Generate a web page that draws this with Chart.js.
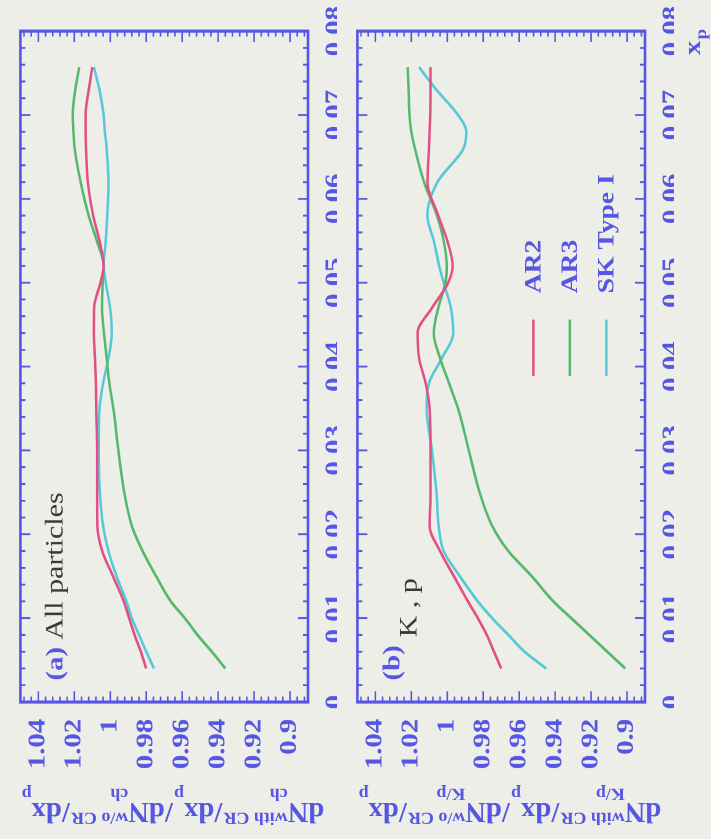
<!DOCTYPE html>
<html>
<head>
<meta charset="utf-8">
<script src="https://cdn.jsdelivr.net/npm/chart.js@4.4.1/dist/chart.umd.min.js"></script>
<style>
  html, body { margin: 0; padding: 0; background: #eeeee8; overflow: hidden; }
  /* the figure is drawn upright, then turned a quarter to the left like the scan */
  #page { position: absolute; left: 0; top: 0; width: 700px; height: 711px;
          transform-origin: 0 0; transform: translateY(839px) rotate(-90deg) scaleX(1.19857); }
  #page canvas { position: absolute; left: 0; }
</style>
</head>
<body>
<div id="page">
  <canvas id="chart_all" width="700" height="337" style="top:0px"></canvas>
  <canvas id="chart_kp" width="700" height="374" style="top:337px"></canvas>
</div>
<script>
// x_p sample points, shared by every curve
var XP = [0.004, 0.006, 0.008, 0.010, 0.012, 0.015, 0.018, 0.021, 0.025, 0.030, 0.035, 0.038,
          0.041, 0.044, 0.047, 0.050, 0.052, 0.055, 0.058, 0.062, 0.066, 0.068, 0.070, 0.073, 0.0757];

// (a) all particles
var AR2_ALL = [0.980, 0.983, 0.9865, 0.9895, 0.9925, 0.9985, 1.0045, 1.0072, 1.0073, 1.0073, 1.0078, 1.008,
               1.0085, 1.0091, 1.009, 1.0055, 1.0037, 1.006, 1.0095, 1.0125, 1.0135, 1.0137, 1.0137, 1.012, 1.010];
var AR3_ALL = [0.936, 0.9435, 0.9515, 0.9585, 0.9663, 0.9745, 0.982, 0.988, 0.9922, 0.9955, 0.9983, 1.0005,
               1.002, 1.0035, 1.0046, 1.0042, 1.0037, 1.0075, 1.012, 1.0165, 1.0198, 1.0205, 1.0209, 1.0195, 1.0173];
var SK_ALL  = [0.9757, 0.980, 0.984, 0.988, 0.991, 0.9965, 1.001, 1.004, 1.0058, 1.0064, 1.006, 1.004,
               1.001, 0.9992, 1.0001, 1.0025, 1.0037, 1.0025, 1.0017, 1.001, 1.002, 1.003, 1.0037, 1.006, 1.0091];

// (b) K, p
var AR2_KP = [0.970, 0.974, 0.978, 0.983, 0.9885, 0.9963, 1.004, 1.0098, 1.0093, 1.0093, 1.0098, 1.012,
              1.0157, 1.0165, 1.0085, 0.9995, 0.997, 1.000, 1.005, 1.011, 1.0102, 1.0098, 1.0095, 1.0093, 1.0093];
var AR3_KP = [0.901, 0.911, 0.921, 0.931, 0.941, 0.953, 0.966, 0.975, 0.982, 0.988, 0.994, 0.999,
              1.004, 1.0075, 1.005, 1.001, 1.0003, 1.002, 1.0057, 1.0129, 1.018, 1.020, 1.021, 1.0215, 1.022];
var SK_KP  = [0.945, 0.957, 0.966, 0.975, 0.983, 0.993, 1.002, 1.0048, 1.006, 1.0085, 1.0115, 1.0102,
              1.003, 0.9967, 0.998, 1.002, 1.0045, 1.0075, 1.0111, 1.0055, 0.991, 0.9894, 0.994, 1.006, 1.0157];

var SERIES_LABELS = ['AR2', 'AR3', 'SK Type I'];
var X_TICKS = [0, 0.01, 0.02, 0.03, 0.04, 0.05, 0.06, 0.07, 0.08];
var Y_TICKS = [0.9, 0.92, 0.94, 0.96, 0.98, 1, 1.02, 1.04];

// y axis titles: main text, or a superscript/subscript pair
var TITLE_ALL = [{t: 'dN'}, {sup: 'with CR', sub: 'ch'}, {t: '/dx'}, {sub: 'p'},
                 {t: '/dN'}, {sup: 'w/o CR', sub: 'ch'}, {t: '/dx'}, {sub: 'p'}];
var TITLE_KP  = [{t: 'dN'}, {sup: 'with CR', sub: 'K/p'}, {t: '/dx'}, {sub: 'p'},
                 {t: '/dN'}, {sup: 'w/o CR', sub: 'K/p'}, {t: '/dx'}, {sub: 'p'}];

var BLUE = '#5656e4';
var COLORS = ['#e24f86', '#55b86c', '#57c8d8'];
var SERIF = "'Liberation Serif', 'DejaVu Serif', serif";
var MAIN_FONT = 'bold 24px ' + SERIF;
var SMALL_FONT = 'bold 15px ' + SERIF;

function points(ys) {
    return XP.map(function(x, i) { return {x: x, y: ys[i]}; });
}

function makeDatasets(ar2, ar3, sk) {
    return [ar2, ar3, sk].map(function(ys, i) {
        return {
            label: SERIES_LABELS[i],
            data: points(ys),
            borderColor: COLORS[i],
            backgroundColor: COLORS[i],
            borderWidth: 2.5,
            pointRadius: 0,
            fill: false,
            cubicInterpolationMode: 'monotone'
        };
    });
}

function partWidth(ctx, p) {
    if (p.t) { ctx.font = MAIN_FONT; return ctx.measureText(p.t).width; }
    ctx.font = SMALL_FONT;
    var a = p.sup ? ctx.measureText(p.sup).width : 0;
    var b = p.sub ? ctx.measureText(p.sub).width : 0;
    return Math.max(a, b) + 1;
}

function drawAxisTitle(ctx, parts, baseX, centerY, len) {
    var w = 0;
    parts.forEach(function(p) { w += partWidth(ctx, p); });
    ctx.save();
    ctx.translate(baseX, centerY);
    ctx.rotate(-Math.PI / 2);
    ctx.scale(len / w, 1);
    ctx.fillStyle = BLUE;
    ctx.textAlign = 'left';
    ctx.textBaseline = 'alphabetic';
    var x = -w / 2;
    parts.forEach(function(p) {
        var pw = partWidth(ctx, p);
        if (p.t) {
            ctx.font = MAIN_FONT;
            ctx.fillText(p.t, x, 0);
        } else {
            ctx.font = SMALL_FONT;
            if (p.sup) ctx.fillText(p.sup, x, -8);
            if (p.sub) ctx.fillText(p.sub, x, 12);
        }
        x += pw;
    });
    ctx.restore();
}

// frame with inward ticks on four sides, panel captions, legend
function panelPlugin(p) {
    return {
        id: 'panel_' + p.name,
        afterDraw: function(chart) {
            var ctx = chart.ctx, a = chart.chartArea;
            var xs = chart.scales.x, ys = chart.scales.y;
            ctx.save();
            ctx.strokeStyle = BLUE;
            ctx.lineWidth = 2.6;
            ctx.strokeRect(a.left, a.top, a.right - a.left, a.bottom - a.top);
            ctx.lineWidth = 1.6;
            ctx.beginPath();
            for (var k = 0; k <= 40; k++) {
                var px = xs.getPixelForValue(k * 0.002);
                var len = k % 5 === 0 ? 10 : 5;
                ctx.moveTo(px, a.bottom); ctx.lineTo(px, a.bottom - len);
                ctx.moveTo(px, a.top); ctx.lineTo(px, a.top + len);
            }
            for (var m = -2; m <= 37; m++) {
                var py = ys.getPixelForValue(0.9 + m * 0.004);
                var l2 = m % 5 === 0 ? 9 : 4.5;
                ctx.moveTo(a.left, py); ctx.lineTo(a.left + l2, py);
                ctx.moveTo(a.right, py); ctx.lineTo(a.right - l2, py);
            }
            ctx.stroke();

            ctx.textAlign = 'left';
            ctx.textBaseline = 'alphabetic';
            ctx.fillStyle = BLUE;
            ctx.font = 'bold 24px ' + SERIF;
            ctx.fillText(p.letter, a.left + 18, a.top + 42);
            ctx.fillStyle = '#3a3a3a';
            ctx.font = '25px ' + SERIF;
            ctx.fillText(p.caption, a.left + p.capDx, a.top + p.capDy);

            drawAxisTitle(ctx, p.title, 30, a.top + 152, 304);

            if (p.legend) {
                chart.data.datasets.forEach(function(ds, i) {
                    var y = a.top + 176 + i * 36.5;
                    ctx.strokeStyle = ds.borderColor;
                    ctx.lineWidth = 2.5;
                    ctx.beginPath();
                    ctx.moveTo(a.left + 272, y); ctx.lineTo(a.left + 319, y);
                    ctx.stroke();
                    ctx.fillStyle = BLUE;
                    ctx.font = 'bold 23px ' + SERIF;
                    ctx.textBaseline = 'middle';
                    ctx.fillText(ds.label, a.left + 341, y + 1);
                });
                ctx.textBaseline = 'alphabetic';
                ctx.fillStyle = BLUE;
                ctx.font = 'bold 24px ' + SERIF;
                ctx.fillText('x', 654, a.bottom + 55);
                ctx.font = 'bold 16px ' + SERIF;
                ctx.fillText('p', 667, a.bottom + 61);
            }
            ctx.restore();
        }
    };
}

function makeOptions(bottomPad) {
    var tickFont = {family: SERIF, size: 24, weight: 'bold'};
    return {
        responsive: false,
        animation: false,
        devicePixelRatio: 2,
        layout: {padding: {left: 0, right: 23.4, top: 13, bottom: bottomPad}},
        plugins: {legend: {display: false}, tooltip: {enabled: false}},
        scales: {
            x: {
                type: 'linear', min: 0, max: 0.08,
                grid: {display: false}, border: {display: false},
                afterBuildTicks: function(s) { s.ticks = X_TICKS.map(function(v) { return {value: v}; }); },
                afterFit: function(s) { s.height = 29; },
                ticks: {font: tickFont, color: BLUE, padding: 5, maxRotation: 0, minRotation: 0, autoSkip: false,
                        callback: function(v) { return String(+v.toFixed(2)); }}
            },
            y: {
                type: 'linear', min: 0.89, max: 1.05,
                grid: {display: false}, border: {display: false},
                afterBuildTicks: function(s) { s.ticks = Y_TICKS.map(function(v) { return {value: v}; }); },
                afterFit: function(s) { s.width = 114.3; },
                ticks: {font: tickFont, color: BLUE, padding: 6, autoSkip: false,
                        callback: function(v) { return String(+v.toFixed(2)); }}
            }
        }
    };
}

new Chart(document.getElementById('chart_all'), {
    type: 'line',
    data: {datasets: makeDatasets(AR2_ALL, AR3_ALL, SK_ALL)},
    options: makeOptions(0),
    plugins: [panelPlugin({name: 'all', letter: '(a)', caption: 'All particles', capDx: 52, capDy: 42,
                           title: TITLE_ALL, legend: false})]
});

new Chart(document.getElementById('chart_kp'), {
    type: 'line',
    data: {datasets: makeDatasets(AR2_KP, AR3_KP, SK_KP)},
    options: makeOptions(37),
    plugins: [panelPlugin({name: 'kp', letter: '(b)', caption: 'K , p', capDx: 54, capDy: 59,
                           title: TITLE_KP, legend: true})]
});
</script>
</body>
</html>
